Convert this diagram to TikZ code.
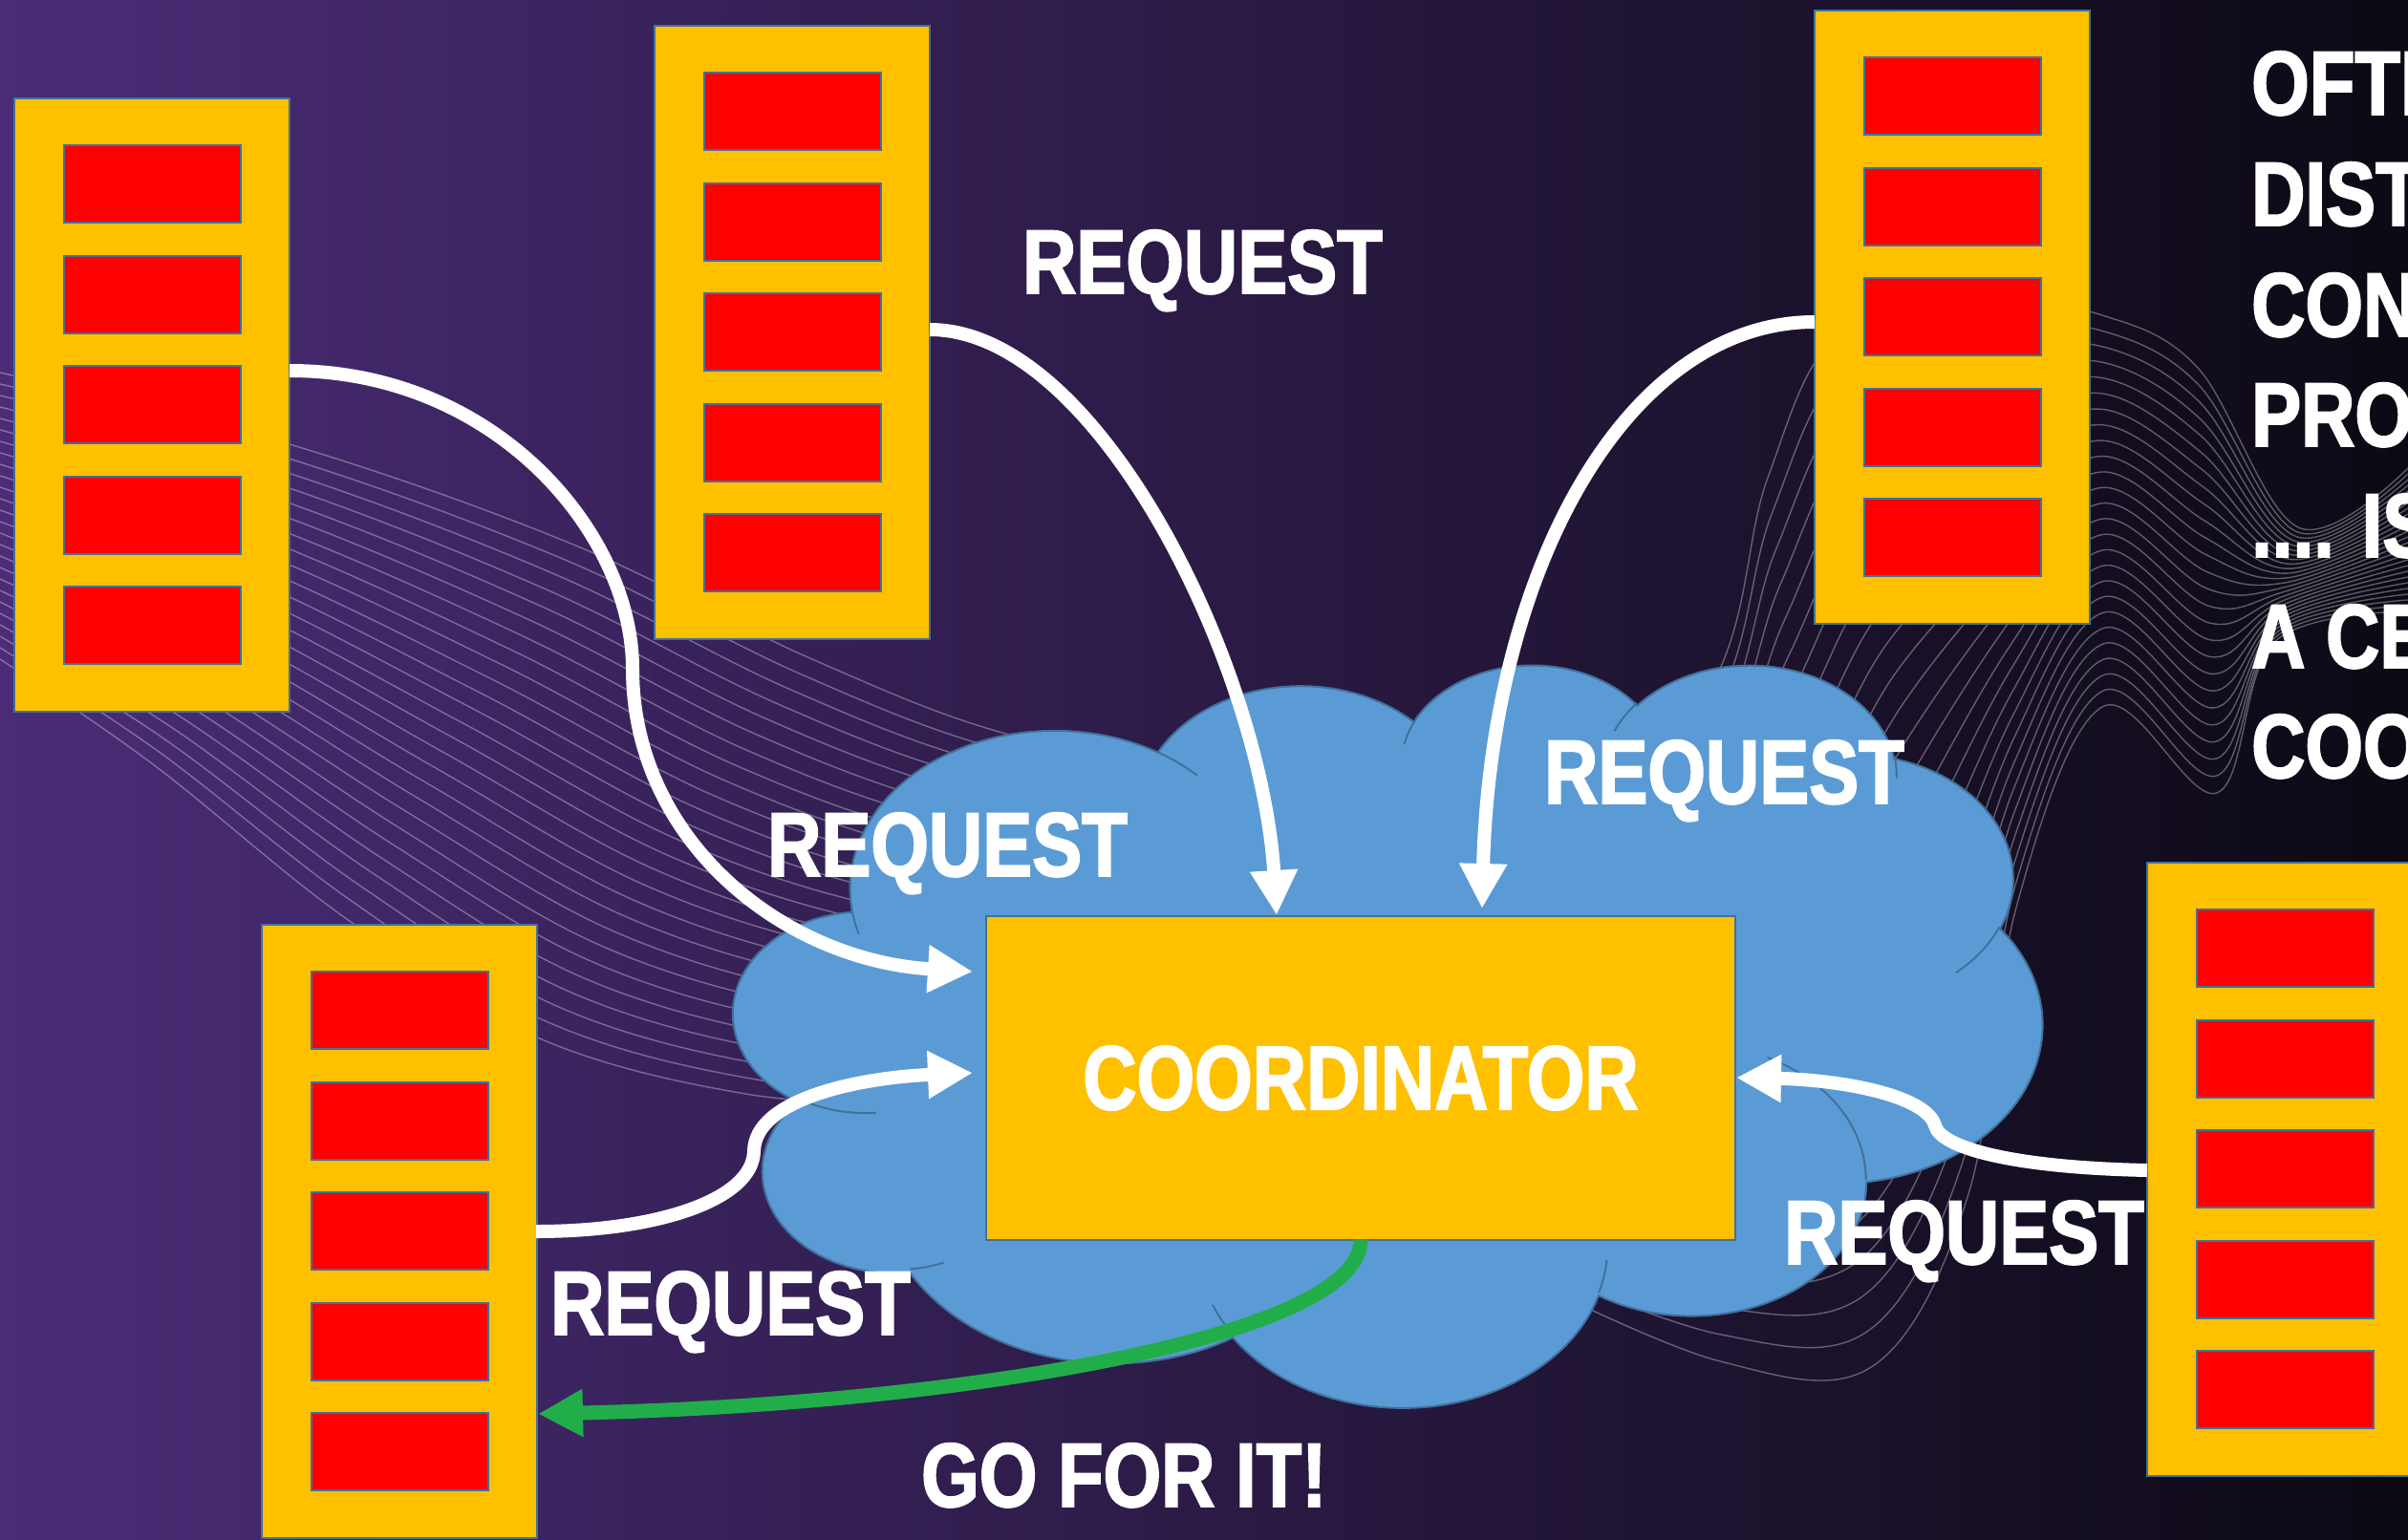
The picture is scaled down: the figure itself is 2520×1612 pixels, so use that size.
\documentclass[tikz,border=0pt]{standalone}
\usepackage{fontspec}
\newfontfamily\labelfont[FakeStretch=0.82, FakeBold=2]{Liberation Sans}
\usetikzlibrary{arrows.meta}

\definecolor{bgleft}{HTML}{4A2C77}
\definecolor{bgmid}{HTML}{2B1A46}
\definecolor{bgright}{HTML}{0C0914}
\definecolor{gold}{HTML}{FFC000}
\definecolor{edge}{HTML}{41719C}
\definecolor{slotred}{HTML}{FF0000}
\definecolor{cloudblue}{HTML}{5B9BD5}
\definecolor{gogreen}{HTML}{22AD4B}

% elliptic arc given by visual start angle and sweep (clockwise, y down)
\newcommand\carc[4]{arc[x radius=#1, y radius=#2, start angle={parang(#3,#1,#2)}, delta angle={pdelta(#3,#4,#1,#2)}]}

\tikzset{
  declare function={
    parang(\a,\rx,\ry)=atan2(\rx*sin(\a),\ry*cos(\a));
    pdelta(\a,\s,\rx,\ry)=parang(\a+\s,\rx,\ry)-parang(\a,\rx,\ry)+360*round((\s-parang(\a+\s,\rx,\ry)+parang(\a,\rx,\ry))/360);
  },
  rack/.style={draw=edge, line width=2pt, fill=gold, inner sep=0pt, outer sep=0pt,
    minimum width=288pt, minimum height=642pt, anchor=north west},
  slot/.style={draw=edge, line width=2pt, fill=slotred, inner sep=0pt, outer sep=0pt,
    minimum width=185pt, minimum height=81pt, anchor=north west},
  hub/.style={draw=edge, line width=2pt, fill=gold, inner sep=0pt, outer sep=0pt,
    minimum width=784pt, minimum height=339pt, text=white,
    font=\labelfont\bfseries\fontsize{95}{115.7}\selectfont},
  msg/.style={text=white, inner sep=0pt, anchor=base west,
    font=\labelfont\bfseries\fontsize{95}{115.7}\selectfont},
  req/.style={draw=white, line width=14pt, -{Triangle[length=47pt,width=47pt]}},
  grant/.style={draw=gogreen, line width=15pt, -{Triangle[length=47pt,width=47pt]}},
  mesh/.style={draw=white, draw opacity=0.33, line width=1.4pt},
}

% a rack of five slots, top-left corner at (#2,#3)
\newcommand\rackat[3]{%
  \node[rack] (#1) at (#2,#3) {};
  \foreach \k in {0,...,4}{
    \node[slot] (#1-\k) at (#2+52, #3+49+115.6*\k) {};
  }%
}

\begin{document}
\begin{tikzpicture}[x=1pt, y=-1pt]
\useasboundingbox (0,0) rectangle (2520,1612);
\clip (0,0) rectangle (2520,1612);

% background
\shade[left color=bgleft, middle color=bgmid, right color=bgright] (0,0) rectangle (2520,1612);

% flowing line bundles
\foreach \t in {0,0.04,...,1.001}{
  \draw[mesh] plot[smooth, tension=0.6] coordinates {
    ({0},{390+300*\t})
    ({303-143*\t},{465+335*\t})
    ({600-240*\t},{570+390*\t})
    ({850-290*\t},{690+395*\t})
    ({1060-280*\t},{770+375*\t})
    ({1300-300*\t},{810+350*\t})};
  \draw[mesh] plot[smooth, tension=0.6] coordinates {
    ({1600},{950+390*\t})
    ({1790+10*\t},{720+705*\t})
    ({1850+110*\t},{500+930*\t})
    ({1930+130*\t},{345+905*\t})
    ({2100+10*\t},{320+630*\t})
    ({2200},{330+410*\t})
    ({2300+20*\t},{385+445*\t})
    ({2405-25*\t},{552+120*\t})
    ({2520},{490+150*\t})};
}

% network cloud
\begin{scope}[shift={(768,694)}, x=0.31690pt, y=-0.17986pt]
  \filldraw[fill=cloudblue, draw=edge, line width=2pt] (390,1437)
    \carc{675.3}{919}{-190.4875}{123.7805}
    \carc{533.3}{726.7}{-144.1024}{89.9452}
    \carc{436.5}{594.5}{-145.8079}{99.7230}
    \carc{485.7}{659.5}{-130.9861}{117.2417}
    \carc{533.3}{727.3}{-78.7089}{109.0269}
    \carc{677.5}{922}{-46.2673}{130.2690}
    \carc{578.5}{786.7}{0.6250}{114.0333}
    \carc{675.2}{921.5}{22.4516}{115.1726}
    \carc{772}{1054.3}{66.2426}{75.7110}
    \carc{436}{591.8}{-274.9421}{146.7356}
    \carc{434.5}{594.5}{-246.8285}{152.5189}
    -- cycle;
  \draw[edge, line width=2pt]
    (469.3,2617.7) \carc{434.5}{594.5}{86.742}{26.4295}
    (692.8,3489.9) \carc{436}{591.8}{73.6105}{11.4475}
    (1647.8,3909) \carc{675.2}{921.5}{137.6242}{14.0811}
    (2882.7,3475.1) \carc{675.2}{921.5}{6.4533}{15.9984}
    (3412.9,2295.4) \carc{578.5}{786.7}{-70.2924}{70.9174}
    (4179.8,1535.4) \carc{533.3}{727.3}{30.318}{27.7515}
    (3832.4,542.6) \carc{485.7}{659.5}{-13.7443}{14.8572}
    (2907.8,395.2) \carc{485.7}{659.5}{-149.1815}{18.1876}
    (2214.1,472) \carc{436.5}{594.5}{-163.4943}{17.6881}
    (1400,519.2) \carc{675.3}{919}{-66.707}{12.3194}
    (412.7,1578.9) \carc{675.3}{919}{157.6544}{11.8582};
\end{scope}

% coordinator
\node[hub] (coord) at (1424,1128.5) {COORDINATOR};

% racks
\rackat{s1}{15}{103}
\rackat{s2}{685}{27}
\rackat{s3}{1899}{11}
\rackat{s4}{274}{968}
\rackat{s5}{2247}{903}

% connector end points on the rack and coordinator edges
\coordinate (a1) at (303,388);
\coordinate (a2) at (973,345);
\coordinate (a3) at (1899,337);
\coordinate (a4) at (561,1289);
\coordinate (a5) at (2247,1225);
\coordinate (b1) at (1018,1017);
\coordinate (b2) at (1336,958);
\coordinate (b3) at (1551,951);
\coordinate (b4) at (1018,1123);
\coordinate (b5) at (1817,1128);
\coordinate (goTip) at (563,1480);

% requests
\draw[req] (a1) .. controls (520,388) and (662,560) .. (662,700)
              .. controls (662,880) and (820,1005) .. (b1);
\draw[req] (a2) .. controls (1150,345) and (1320,700) .. (b2);
\draw[req] (a3) .. controls (1700,337) and (1560,600) .. (b3);
\draw[req] (a4) .. controls (690,1289) and (788,1255) .. (789,1205)
              .. controls (790,1150) and (900,1128) .. (b4);
\draw[req] (a5) .. controls (2100,1222) and (2030,1200) .. (2025,1178)
              .. controls (2015,1145) and (1920,1130) .. (b5);

% grant
\draw[grant] (coord.south) .. controls (1424,1400) and (1000,1470) .. (goTip);

% labels
\node[msg] (lblA) at (1070,307) {REQUEST};
\node[msg] (lblB) at (803,917) {REQUEST};
\node[msg] (lblC) at (1616,841) {REQUEST};
\node[msg] (lblD) at (576,1397) {REQUEST};
\node[msg] (lblE) at (1867,1323) {REQUEST};
\node[msg] (lblF) at (964,1577) {GO FOR IT!};

% side note
\node[msg] (note1) at (2356,120) {OFTEN};
\node[msg] (note2) at (2356,236) {DISTRIBUTED};
\node[msg] (note3) at (2356,352) {CONCURRENCY};
\node[msg] (note4) at (2356,467) {PROTOCOLS};
\node[msg] (note5) at (2356,583) {.... IS};
\node[msg] (note6) at (2356,699) {A CENTRAL};
\node[msg] (note7) at (2356,814) {COORDINATOR};
\end{tikzpicture}
\end{document}
